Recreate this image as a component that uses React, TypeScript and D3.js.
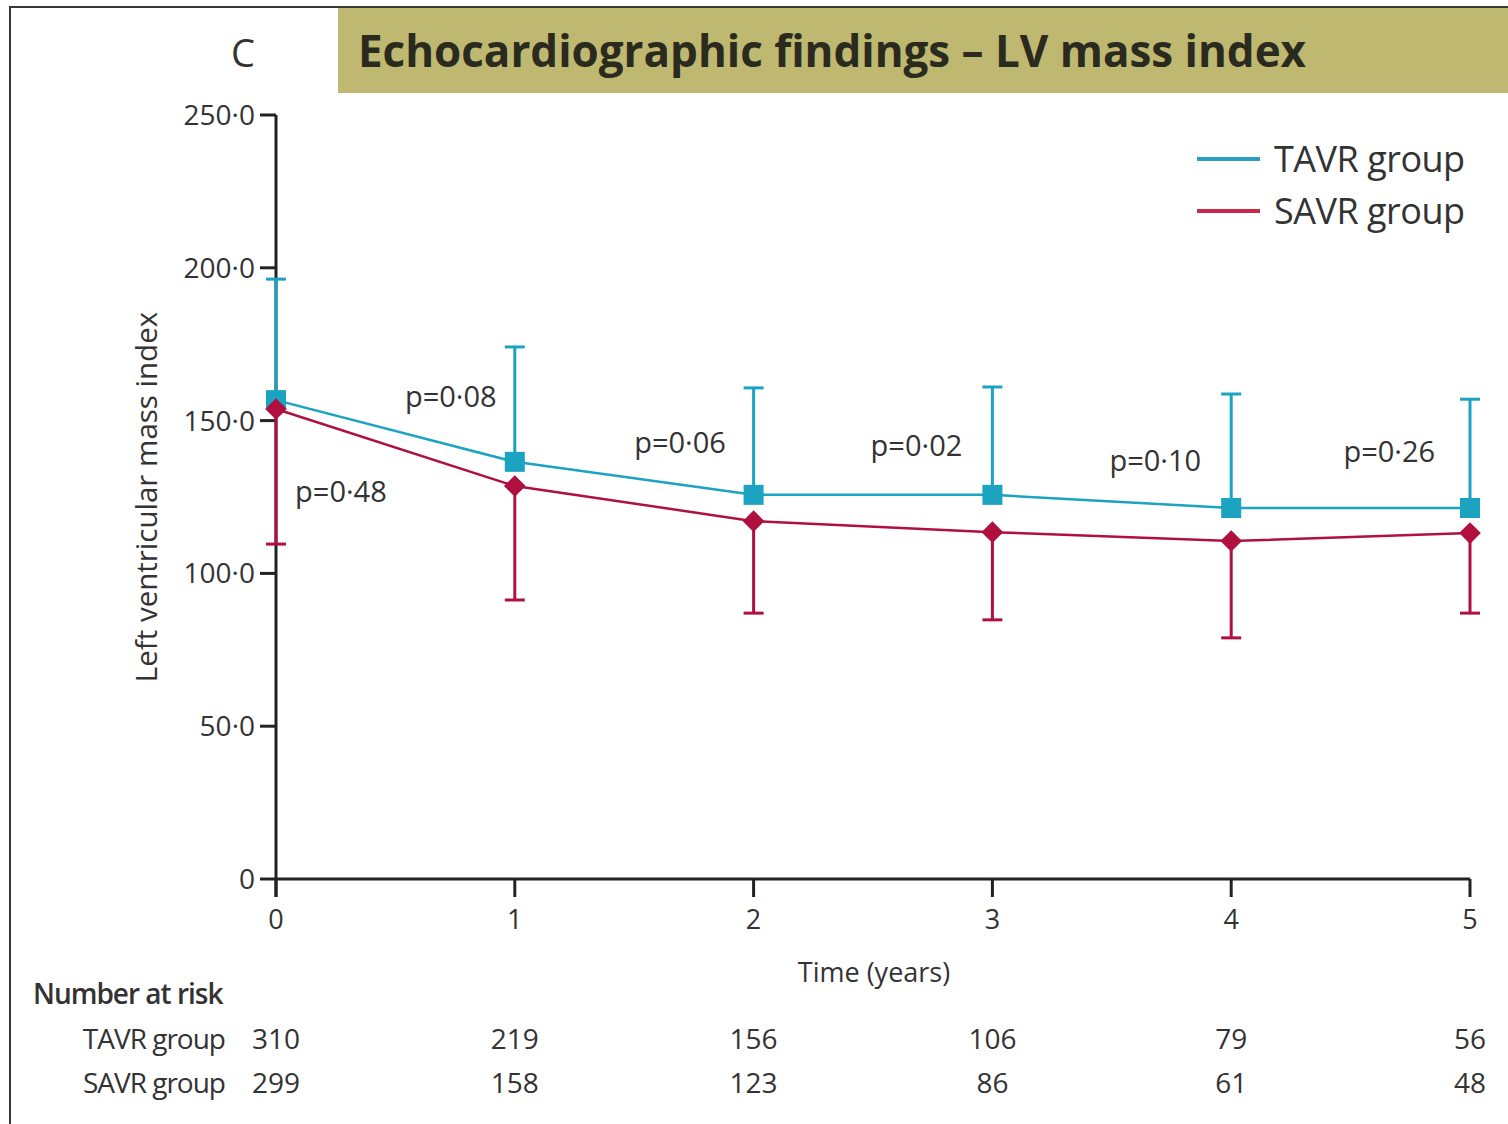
import React from "react";
import * as d3 from "d3";

const years = [0, 1, 2, 3, 4, 5];
const tavrMean = [156.7, 136.5, 125.7, 125.7, 121.4, 121.4];
const tavrUpper = [196.3, 174.1, 160.7, 161.0, 158.7, 157.0];
const savrMean = [153.8, 128.6, 117.1, 113.5, 110.6, 113.2];
const savrLower = [109.6, 91.3, 87.0, 84.8, 78.9, 87.0];
const pValues = ["p=0·48", "p=0·08", "p=0·06", "p=0·02", "p=0·10", "p=0·26"];
const pValueAt = [
  { x: 0.08, y: 123.5 },
  { x: 0.54, y: 154.5 },
  { x: 1.5, y: 139.5 },
  { x: 2.49, y: 138.5 },
  { x: 3.49, y: 133.5 },
  { x: 4.47, y: 136.5 },
];
const yTicks = [0, 50, 100, 150, 200, 250];
const riskTavr = [310, 219, 156, 106, 79, 56];
const riskSavr = [299, 158, 123, 86, 61, 48];

const TAVR = "#1ba3c1";
const SAVR = "#b0103f";
const INK = "#333333";
const FONT = "'Open Sans', 'DejaVu Sans', sans-serif";

const fmtY = (v: number) => (v === 0 ? "0" : v.toFixed(1).replace(".", "·"));

export default function App() {
  const width = 1508;
  const height = 1124;
  const x = d3.scaleLinear().domain([0, 5]).range([276, 1470]);
  const y = d3.scaleLinear().domain([0, 250]).range([879, 115]);

  const line = d3
    .line<number>()
    .x((_d, i) => x(years[i]))
    .y((d) => y(d));

  const diamond = d3.symbol().type(d3.symbolDiamond2).size(300);

  return (
    <svg
      width={width}
      height={height}
      style={{ position: "absolute", left: 0, top: 0, background: "#fff" }}
      fontFamily={FONT}
    >
      {/* frame */}
      <line x1={10} x2={10} y1={6} y2={height} stroke="#3a372e" strokeWidth={2} />
      <line x1={10} x2={width} y1={7} y2={7} stroke="#3a372e" strokeWidth={2} />

      {/* title banner */}
      <rect x={338} y={8} width={width - 338} height={85} fill="#bfb870" />
      <text
        x={358}
        y={67}
        fontSize={44}
        fontWeight={700}
        fill="#2b2a1e"
        textLength={948}
        lengthAdjust="spacingAndGlyphs"
      >
        Echocardiographic findings – LV mass index
      </text>
      <text x={243} y={67} fontSize={38} fill={INK} textAnchor="middle">
        C
      </text>

      {/* y axis */}
      <line x1={x(0)} x2={x(0)} y1={y(250)} y2={y(0) + 18} stroke="#222" strokeWidth={3} />
      {yTicks.map((t) => (
        <g key={t}>
          <line x1={x(0) - 16} x2={x(0)} y1={y(t)} y2={y(t)} stroke="#222" strokeWidth={3} />
          <text x={x(0) - 21} y={y(t) + 10} fontSize={28} fill={INK} textAnchor="end">
            {fmtY(t)}
          </text>
        </g>
      ))}
      <text
        transform={`translate(157, ${y(125)}) rotate(-90)`}
        fontSize={29.5}
        fill={INK}
        textAnchor="middle"
      >
        Left ventricular mass index
      </text>

      {/* x axis */}
      <line x1={x(0)} x2={x(5)} y1={y(0)} y2={y(0)} stroke="#222" strokeWidth={3} />
      {years.map((t) => (
        <g key={t}>
          <line x1={x(t)} x2={x(t)} y1={y(0)} y2={y(0) + 18} stroke="#222" strokeWidth={3} />
          <text x={x(t)} y={929} fontSize={27} fill={INK} textAnchor="middle">
            {t}
          </text>
        </g>
      ))}
      <text x={874} y={982} fontSize={27} fill={INK} textAnchor="middle">
        Time (years)
      </text>

      {/* error bars */}
      {years.map((t, i) => (
        <g key={"e" + t} strokeWidth={3}>
          <line x1={x(t)} x2={x(t)} y1={y(tavrMean[i])} y2={y(tavrUpper[i])} stroke={TAVR} />
          <line x1={x(t) - 10} x2={x(t) + 10} y1={y(tavrUpper[i])} y2={y(tavrUpper[i])} stroke={TAVR} />
          <line x1={x(t)} x2={x(t)} y1={y(savrMean[i])} y2={y(savrLower[i])} stroke={SAVR} />
          <line x1={x(t) - 10} x2={x(t) + 10} y1={y(savrLower[i])} y2={y(savrLower[i])} stroke={SAVR} />
        </g>
      ))}

      {/* lines */}
      <path d={line(tavrMean) ?? ""} fill="none" stroke={TAVR} strokeWidth={2.5} />
      <path d={line(savrMean) ?? ""} fill="none" stroke={SAVR} strokeWidth={2.5} />

      {/* markers */}
      {years.map((t, i) => (
        <rect
          key={"s" + t}
          x={x(t) - 10}
          y={y(tavrMean[i]) - 10}
          width={20}
          height={20}
          fill={TAVR}
        />
      ))}
      {years.map((t, i) => (
        <path
          key={"d" + t}
          d={diamond() ?? ""}
          transform={`translate(${x(t)}, ${y(savrMean[i])})`}
          fill={SAVR}
        />
      ))}

      {/* p values */}
      {pValues.map((p, i) => (
        <text
          key={p}
          x={x(pValueAt[i].x)}
          y={y(pValueAt[i].y)}
          fontSize={29}
          fill={INK}
        >
          {p}
        </text>
      ))}

      {/* legend */}
      <line x1={1197} x2={1260} y1={159} y2={159} stroke="#2a9fc4" strokeWidth={4} />
      <text x={1274} y={172} fontSize={36} fill={INK} letterSpacing={-0.5}>
        TAVR group
      </text>
      <line x1={1197} x2={1260} y1={211} y2={211} stroke="#c8284a" strokeWidth={4} />
      <text x={1274} y={224} fontSize={36} fill={INK} letterSpacing={-0.5}>
        SAVR group
      </text>

      {/* number at risk */}
      <text x={33} y={1004} fontSize={28} fill={INK} fontWeight={600} letterSpacing={-1}>
        Number at risk
      </text>
      <text x={225} y={1049} fontSize={28} fill={INK} textAnchor="end" letterSpacing={-1}>
        TAVR group
      </text>
      <text x={225} y={1093} fontSize={28} fill={INK} textAnchor="end" letterSpacing={-1}>
        SAVR group
      </text>
      {years.map((t, i) => (
        <g key={"r" + t}>
          <text x={x(t)} y={1049} fontSize={28} fill={INK} textAnchor="middle">
            {riskTavr[i]}
          </text>
          <text x={x(t)} y={1093} fontSize={28} fill={INK} textAnchor="middle">
            {riskSavr[i]}
          </text>
        </g>
      ))}
    </svg>
  );
}
